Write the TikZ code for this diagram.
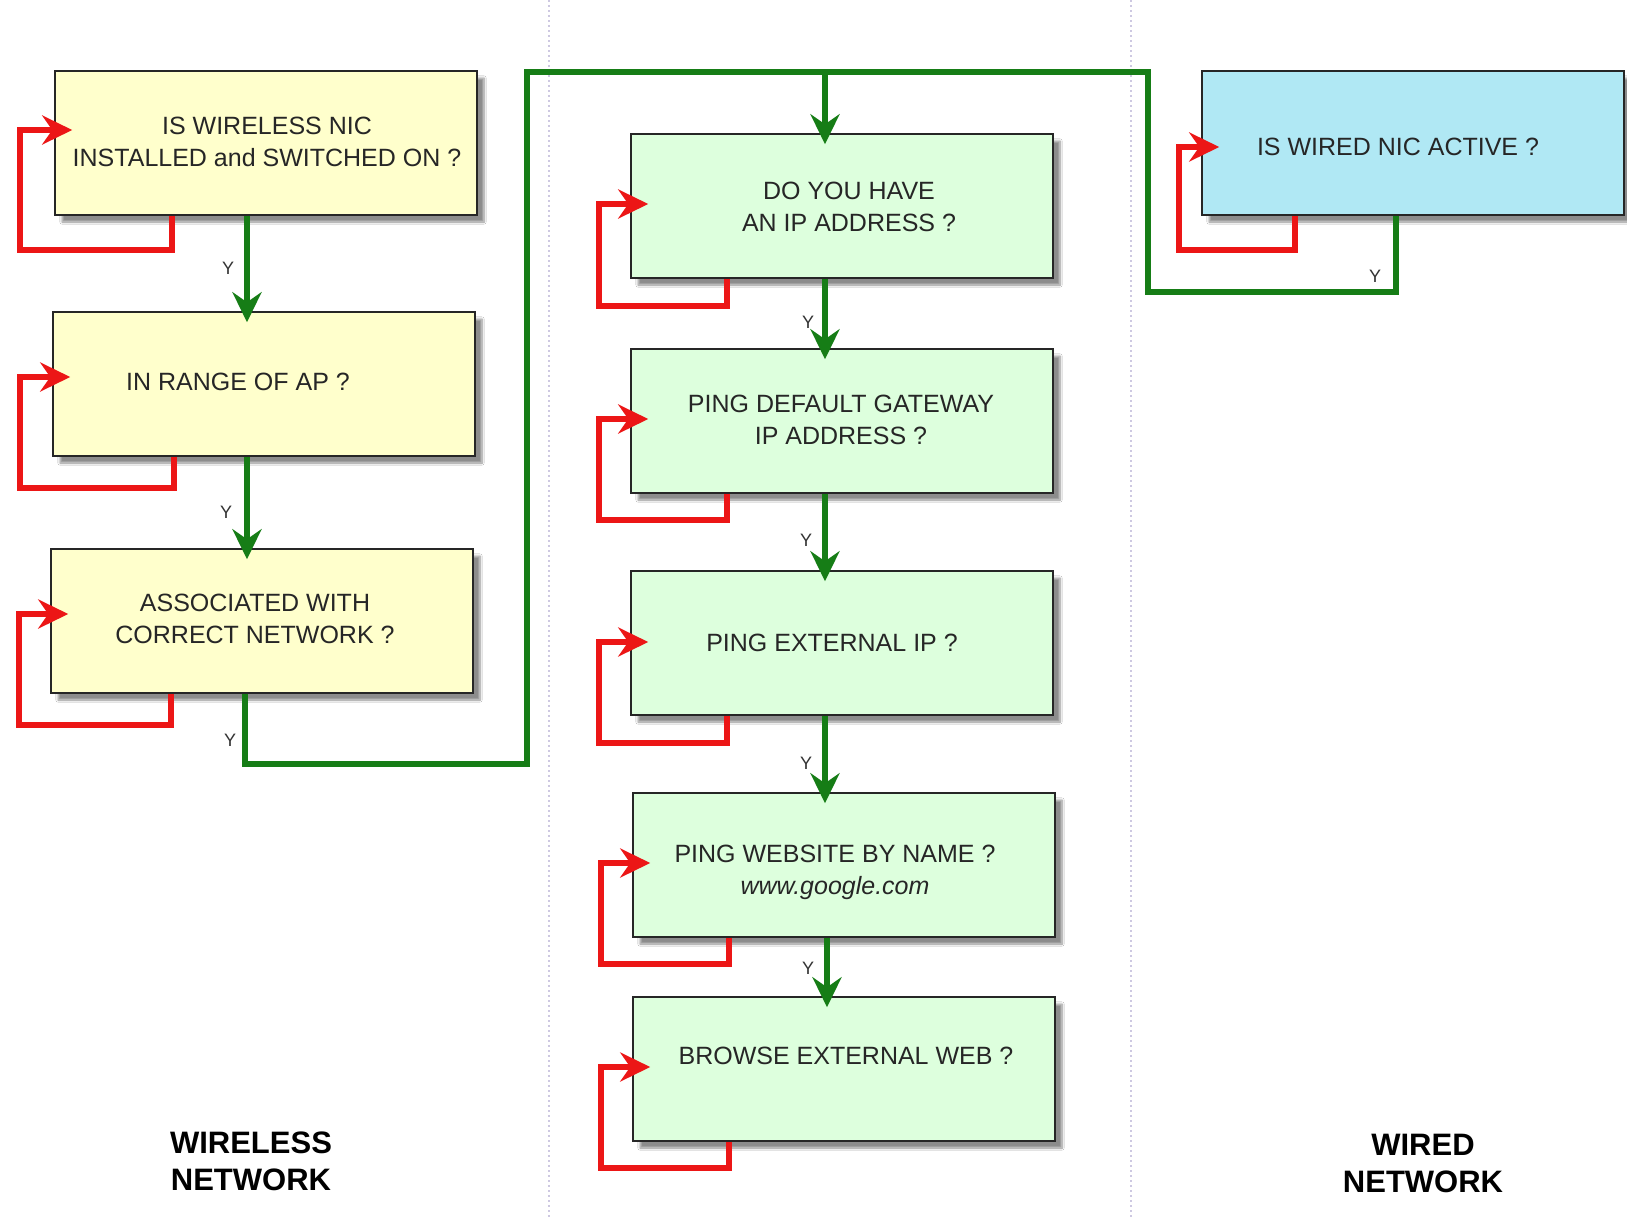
\documentclass[tikz,border=0pt]{standalone}
\usepackage{fontspec}
\setmainfont{Liberation Sans}
\usetikzlibrary{arrows.meta,shadows.blur}
\definecolor{ylw}{RGB}{255,255,204}
\definecolor{grn}{RGB}{221,255,221}
\definecolor{blu}{RGB}{176,232,244}
\definecolor{glc}{RGB}{22,125,22}
\definecolor{rlc}{RGB}{236,22,22}
\definecolor{divc}{RGB}{205,200,225}
\begin{document}
\begin{tikzpicture}[x=1pt,y=-1pt,
  box/.style={draw=black!85, line width=1.5pt, minimum width=422pt, minimum height=144pt, inner sep=0pt,
    blur shadow={shadow xshift=7pt, shadow yshift=-7pt, shadow blur steps=8, shadow opacity=45}},
  ybox/.style={box, fill=ylw},
  gbox/.style={box, fill=grn},
  bbox/.style={box, fill=blu},
  btxt/.style={font=\fontsize{25}{32}\selectfont, align=center, text=black!85, inner sep=0pt},
  ylab/.style={font=\fontsize{18}{20}\selectfont, text=black!80, inner sep=0pt},
  title/.style={font=\fontsize{31}{37}\selectfont\bfseries, align=center, inner sep=0pt},
  gl/.style={draw=glc, line width=6pt, line join=miter},
  ga/.style={gl, -{Stealth[length=30pt, width=29pt, inset=10pt]}, shorten >=-11pt},
  rloop/.style={draw=rlc, line width=6pt, line join=miter, -{Stealth[length=30pt, width=29pt, inset=10pt]}, shorten >=-18pt},
  divider/.style={draw=divc, line width=2pt, dash pattern=on 2pt off 3pt}
]
\fill[white] (0,0) rectangle (1627,1219);
\useasboundingbox (0,0) rectangle (1627,1219);

% dividers
\draw[divider] (549,0) -- (549,1219);
\draw[divider] (1131,0) -- (1131,1219);

% boxes
\node[ybox] (w1) at (266,143) {};
\node[ybox] (w2) at (264,384) {};
\node[ybox] (w3) at (262,621) {};
\node[gbox] (g1) at (842,206) {};
\node[gbox] (g2) at (842,421) {};
\node[gbox] (g3) at (842,643) {};
\node[gbox] (g4) at (844,865) {};
\node[gbox] (g5) at (844,1069) {};
\node[bbox] (b1) at (1413,143) {};

% texts
\node[btxt] (w1t) at (267,142) {IS WIRELESS NIC\\INSTALLED and SWITCHED ON ?};
\node[btxt] (w2t) at (238,382) {IN RANGE OF AP ?};
\node[btxt] (w3t) at (255,619) {ASSOCIATED WITH\\CORRECT NETWORK ?};
\node[btxt] (g1t) at (849,207) {DO YOU HAVE\\AN IP ADDRESS ?};
\node[btxt] (g2t) at (841,420) {PING DEFAULT GATEWAY\\IP ADDRESS ?};
\node[btxt] (g3t) at (832,643) {PING EXTERNAL IP ?};
\node[btxt] (g4t) at (835,872) {PING WEBSITE BY NAME ?\\\textit{www.google.com}};
\node[btxt] (g5t) at (846,1056) {BROWSE EXTERNAL WEB ?};
\node[btxt] (b1t) at (1398,147) {IS WIRED NIC ACTIVE ?};

% red loops
\draw[rloop] (w1.south -| 172,0) |- (20,250) |- (w1.west |- 0,130);
\draw[rloop] (w2.south -| 174,0) |- (20,488) |- (w2.west |- 0,377);
\draw[rloop] (w3.south -| 171,0) |- (19,725) |- (w3.west |- 0,614);
\draw[rloop] (g1.south -| 727,0) |- (599,306) |- (g1.west |- 0,204);
\draw[rloop] (g2.south -| 727,0) |- (599,520) |- (g2.west |- 0,419);
\draw[rloop] (g3.south -| 727,0) |- (599,743) |- (g3.west |- 0,642);
\draw[rloop] (g4.south -| 729,0) |- (601,964) |- (g4.west |- 0,863);
\draw[rloop] (g5.south -| 729,0) |- (601,1168) |- (g5.west |- 0,1067);
\draw[rloop] (b1.south -| 1295,0) |- (1179,250) |- (b1.west |- 0,147);

% green flow
\coordinate (top) at (825,72);
\draw[ga] (w1.south -| 247,0) -- (w2.north -| 247,0);
\draw[ga] (w2.south -| 247,0) -- (w3.north -| 247,0);
\draw[gl] (w3.south -| 245,0) |- (527,764) |- (top);
\draw[gl] (b1.south -| 1396,0) |- (1148,292) |- (top);
\draw[ga] (top) -- (g1.north -| top);
\draw[ga] (g1.south -| top) -- (g2.north -| top);
\draw[ga] (g2.south -| top) -- (g3.north -| top);
\draw[ga] (g3.south -| top) -- (g4.north -| top);
\draw[ga] (g4.south -| 827,0) -- (g5.north -| 827,0);

% Y labels
\node[ylab] (y1) at (228,268) {Y};
\node[ylab] (y2) at (226,512) {Y};
\node[ylab] (y3) at (230,740) {Y};
\node[ylab] (y4) at (808,322) {Y};
\node[ylab] (y5) at (806,540) {Y};
\node[ylab] (y6) at (806,763) {Y};
\node[ylab] (y7) at (808,968) {Y};
\node[ylab] (y8) at (1375,276) {Y};

% titles
\node[title] (wl) at (251,1161) {WIRELESS\\NETWORK};
\node[title] (wd) at (1423,1163) {WIRED\\NETWORK};
\end{tikzpicture}
\end{document}
